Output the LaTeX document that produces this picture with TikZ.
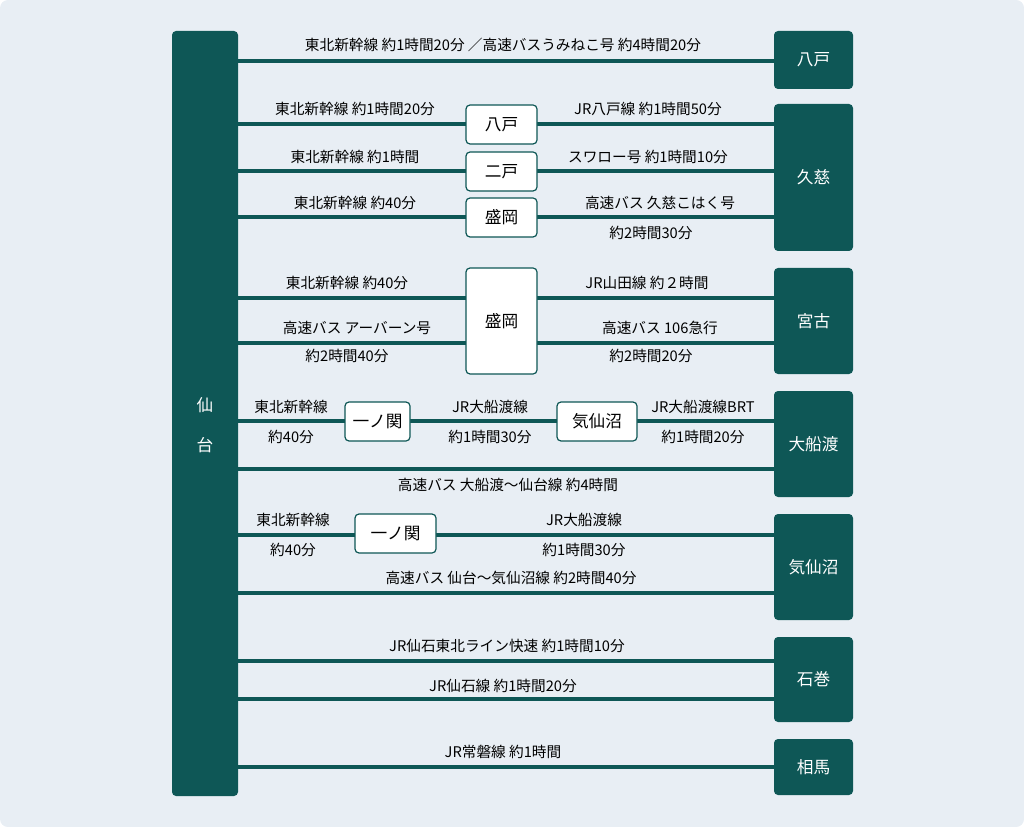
\documentclass[tikz,border=0pt]{standalone}
\usepackage{fontspec}
\setmainfont{Noto Sans CJK JP}
\begin{document}
\begin{tikzpicture}[x=0.75pt,y=-0.75pt,
  dark/.style={fill=teal0,draw=none,rounded corners=3pt,text=white,font=\fontsize{12.5}{14}\selectfont},
  mid/.style={fill=white,draw=teal0,line width=0.9pt,rounded corners=3pt,font=\fontsize{12.5}{14}\selectfont,inner sep=0},
  ln/.style={draw=teal0,line width=3pt},
  lb/.style={font=\fontsize{11}{12}\selectfont,text=black}]
\definecolor{teal0}{HTML}{0E5756}
\definecolor{bg}{HTML}{E8EEF4}
\fill[bg,rounded corners=6pt] (0,0) rectangle (1024,827);
\useasboundingbox (0,0) rectangle (1024,827);
% lines
\foreach \y in {61,124,171,217,298,343,421,469,535,593,661,699,767}
  \draw[ln] (238,\y) -- (774,\y);
% Sendai bar
\node[dark,minimum width=49.5pt,minimum height=573.75pt] (sendai) at (205,413.5) {};
\node[text=white,font=\fontsize{12.5}{14}\selectfont] at (205,405) {仙};
\node[text=white,font=\fontsize{12.5}{14}\selectfont] at (205,445) {台};
% destination boxes
\newcommand\dbox[4]{\node[dark,minimum width=59.25pt,minimum height=#3*0.75pt] (#1) at (813.5,#2) {#4};}
\dbox{hachi}{60}{58}{八戸}
\dbox{kuji}{177.5}{147}{久慈}
\dbox{miyako}{321}{106}{宮古}
\dbox{ofuna}{444}{106}{大船渡}
\dbox{kesen}{567}{106}{気仙沼}
\dbox{ishi}{679.5}{85}{石巻}
\dbox{soma}{767}{56}{相馬}
% intermediate boxes
\newcommand\midbox[5]{\node[mid,minimum width=#3*0.75pt,minimum height=#4*0.75pt] (#1) at #2 {#5};}
\midbox{m1}{(501.5,124.5)}{71}{39}{八戸}
\midbox{m2}{(501.5,171.5)}{71}{39}{二戸}
\midbox{m3}{(501.5,217.5)}{71}{39}{盛岡}
\midbox{m4}{(501.5,321)}{71}{106}{盛岡}
\midbox{m5}{(377.5,421.5)}{65}{39}{一ノ関}
\midbox{m6}{(597,421.5)}{80}{39}{気仙沼}
\midbox{m7}{(395.5,533.5)}{81}{39}{一ノ関}
% labels
\node[lb] at (503,45) {東北新幹線 約1時間20分 ／高速バスうみねこ号 約4時間20分};
\node[lb] at (355,109) {東北新幹線 約1時間20分};
\node[lb] at (648,109) {JR八戸線 約1時間50分};
\node[lb] at (355,157) {東北新幹線 約1時間};
\node[lb] at (648,157) {スワロー号 約1時間10分};
\node[lb] at (355,203) {東北新幹線 約40分};
\node[lb] at (660,203) {高速バス 久慈こはく号};
\node[lb] at (651,233) {約2時間30分};
\node[lb] at (347,283) {東北新幹線 約40分};
\node[lb] at (647,283) {JR山田線 約２時間};
\node[lb] at (357,328) {高速バス アーバーン号};
\node[lb] at (347,356) {約2時間40分};
\node[lb] at (660,328) {高速バス 106急行};
\node[lb] at (651,356) {約2時間20分};
\node[lb] at (291,407) {東北新幹線};
\node[lb] at (291,437) {約40分};
\node[lb] at (490,407) {JR大船渡線};
\node[lb] at (490,437) {約1時間30分};
\node[lb] at (703,407) {JR大船渡線BRT};
\node[lb] at (703,437) {約1時間20分};
\node[lb] at (508,485) {高速バス 大船渡～仙台線 約4時間};
\node[lb] at (293,520) {東北新幹線};
\node[lb] at (293,550) {約40分};
\node[lb] at (584,520) {JR大船渡線};
\node[lb] at (584,550) {約1時間30分};
\node[lb] at (511,578) {高速バス 仙台～気仙沼線 約2時間40分};
\node[lb] at (507,646) {JR仙石東北ライン快速 約1時間10分};
\node[lb] at (503,686) {JR仙石線 約1時間20分};
\node[lb] at (503,752) {JR常磐線 約1時間};
\end{tikzpicture}
\end{document}
